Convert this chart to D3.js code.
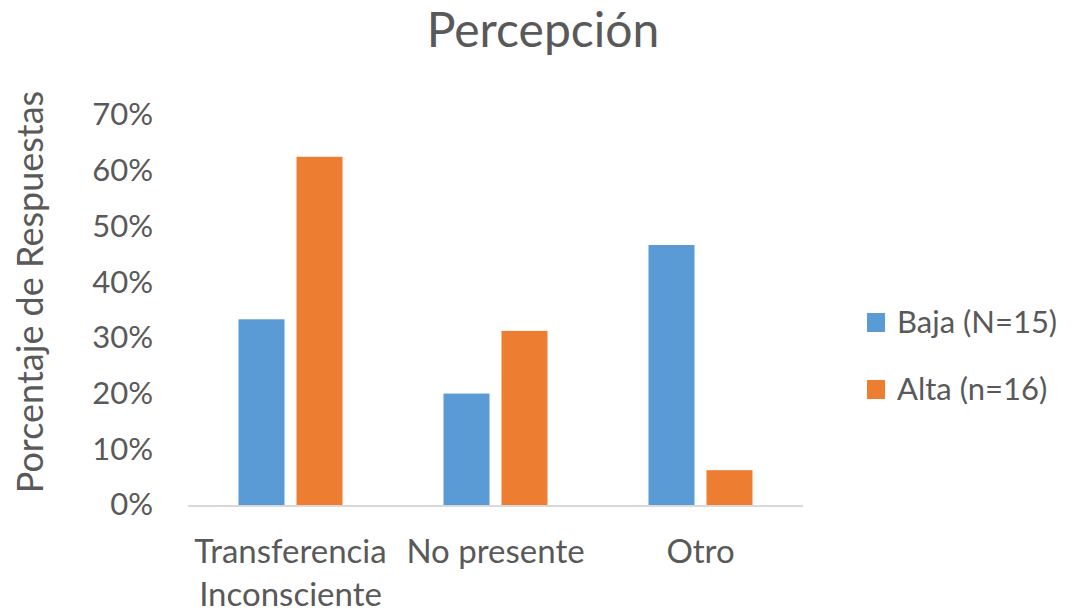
<!DOCTYPE html>
<html>
<head>
<meta charset="utf-8">
<script src="https://cdn.jsdelivr.net/npm/d3@7"></script>
<style>
  html, body { margin: 0; padding: 0; background: #fff; }
  svg { display: block; font-family: Lato, "Open Sans", sans-serif; }
</style>
</head>
<body>
<svg id="chart" width="1073" height="613"></svg>
<script>
// Response categories (label lines drawn one under the other)
const categories = ["Transferencia Inconsciente", "No presente", "Otro"];
const categoryLines = [["Transferencia", "Inconsciente"], ["No presente"], ["Otro"]];
// Share of responses per group
const seriesNames = ["Baja (N=15)", "Alta (n=16)"];
const baja = [0.3333, 0.20, 0.4667];
const alta = [0.625, 0.3125, 0.0625];
const yTicks = [0, 0.1, 0.2, 0.3, 0.4, 0.5, 0.6, 0.7];
const colors = ["#5b9bd5", "#ed7d31"];

const svg = d3.select("#chart");
const plot = { left: 188, right: 803, top: 115, bottom: 505 };

const x = d3.scaleBand().domain(categories).range([plot.left, plot.right]).padding(0);
// Two bars per category, centred in the band with a small gap between them
const inner = d3.scaleBand().domain(seriesNames)
  .range([x.bandwidth() / 2 - 52, x.bandwidth() / 2 + 52])
  .paddingInner(12 / 58).paddingOuter(0);
const y = d3.scaleLinear().domain([0, 0.7]).range([plot.bottom, plot.top]);

// Title
svg.append("text")
  .attr("x", 543).attr("y", 47)
  .attr("text-anchor", "middle")
  .attr("fill", "#595959")
  .style("font-size", "48px")
  .text("Percepción");

// Y axis tick labels
const yAxis = d3.axisLeft(y).tickValues(yTicks).tickFormat(d3.format(".0%")).tickSize(0).tickPadding(0);
const gy = svg.append("g").attr("transform", "translate(153,0)").call(yAxis);
gy.select(".domain").remove();
gy.selectAll("text").attr("fill", "#595959").style("font-size", "31px").style("font-family", "Lato, sans-serif");

// Y axis title
svg.append("text")
  .attr("transform", "translate(43,292) rotate(-90)")
  .attr("text-anchor", "middle")
  .attr("fill", "#595959")
  .style("font-size", "36px")
  .text("Porcentaje de Respuestas");

// Bars
const series = [baja, alta];
series.forEach((vals, si) => {
  svg.append("g").selectAll("rect")
    .data(vals)
    .join("rect")
    .attr("x", (d, i) => x(categories[i]) + inner(seriesNames[si]))
    .attr("y", d => y(d))
    .attr("width", inner.bandwidth())
    .attr("height", d => y(0) - y(d))
    .attr("fill", colors[si]);
});

// Baseline
svg.append("line")
  .attr("x1", plot.left).attr("x2", plot.right)
  .attr("y1", y(0) + 1).attr("y2", y(0) + 1)
  .attr("stroke", "#d9d9d9").attr("stroke-width", 2);

// Category labels
const gx = svg.append("g");
categories.forEach((c, i) => {
  const t = gx.append("text")
    .attr("text-anchor", "middle")
    .attr("fill", "#595959")
    .style("font-size", "33px");
  categoryLines[i].forEach((line, li) => {
    t.append("tspan")
      .attr("x", x(c) + x.bandwidth() / 2)
      .attr("y", 563 + li * 43)
      .text(line);
  });
});

// Legend
const legend = svg.append("g");
seriesNames.forEach((s, i) => {
  const base = 333 + i * 67;
  legend.append("rect")
    .attr("x", 867).attr("y", base - 20).attr("width", 18).attr("height", 19)
    .attr("fill", colors[i]);
  legend.append("text")
    .attr("x", 897).attr("y", base)
    .attr("fill", "#595959")
    .style("font-size", "31px")
    .text(s);
});
</script>
</body>
</html>
